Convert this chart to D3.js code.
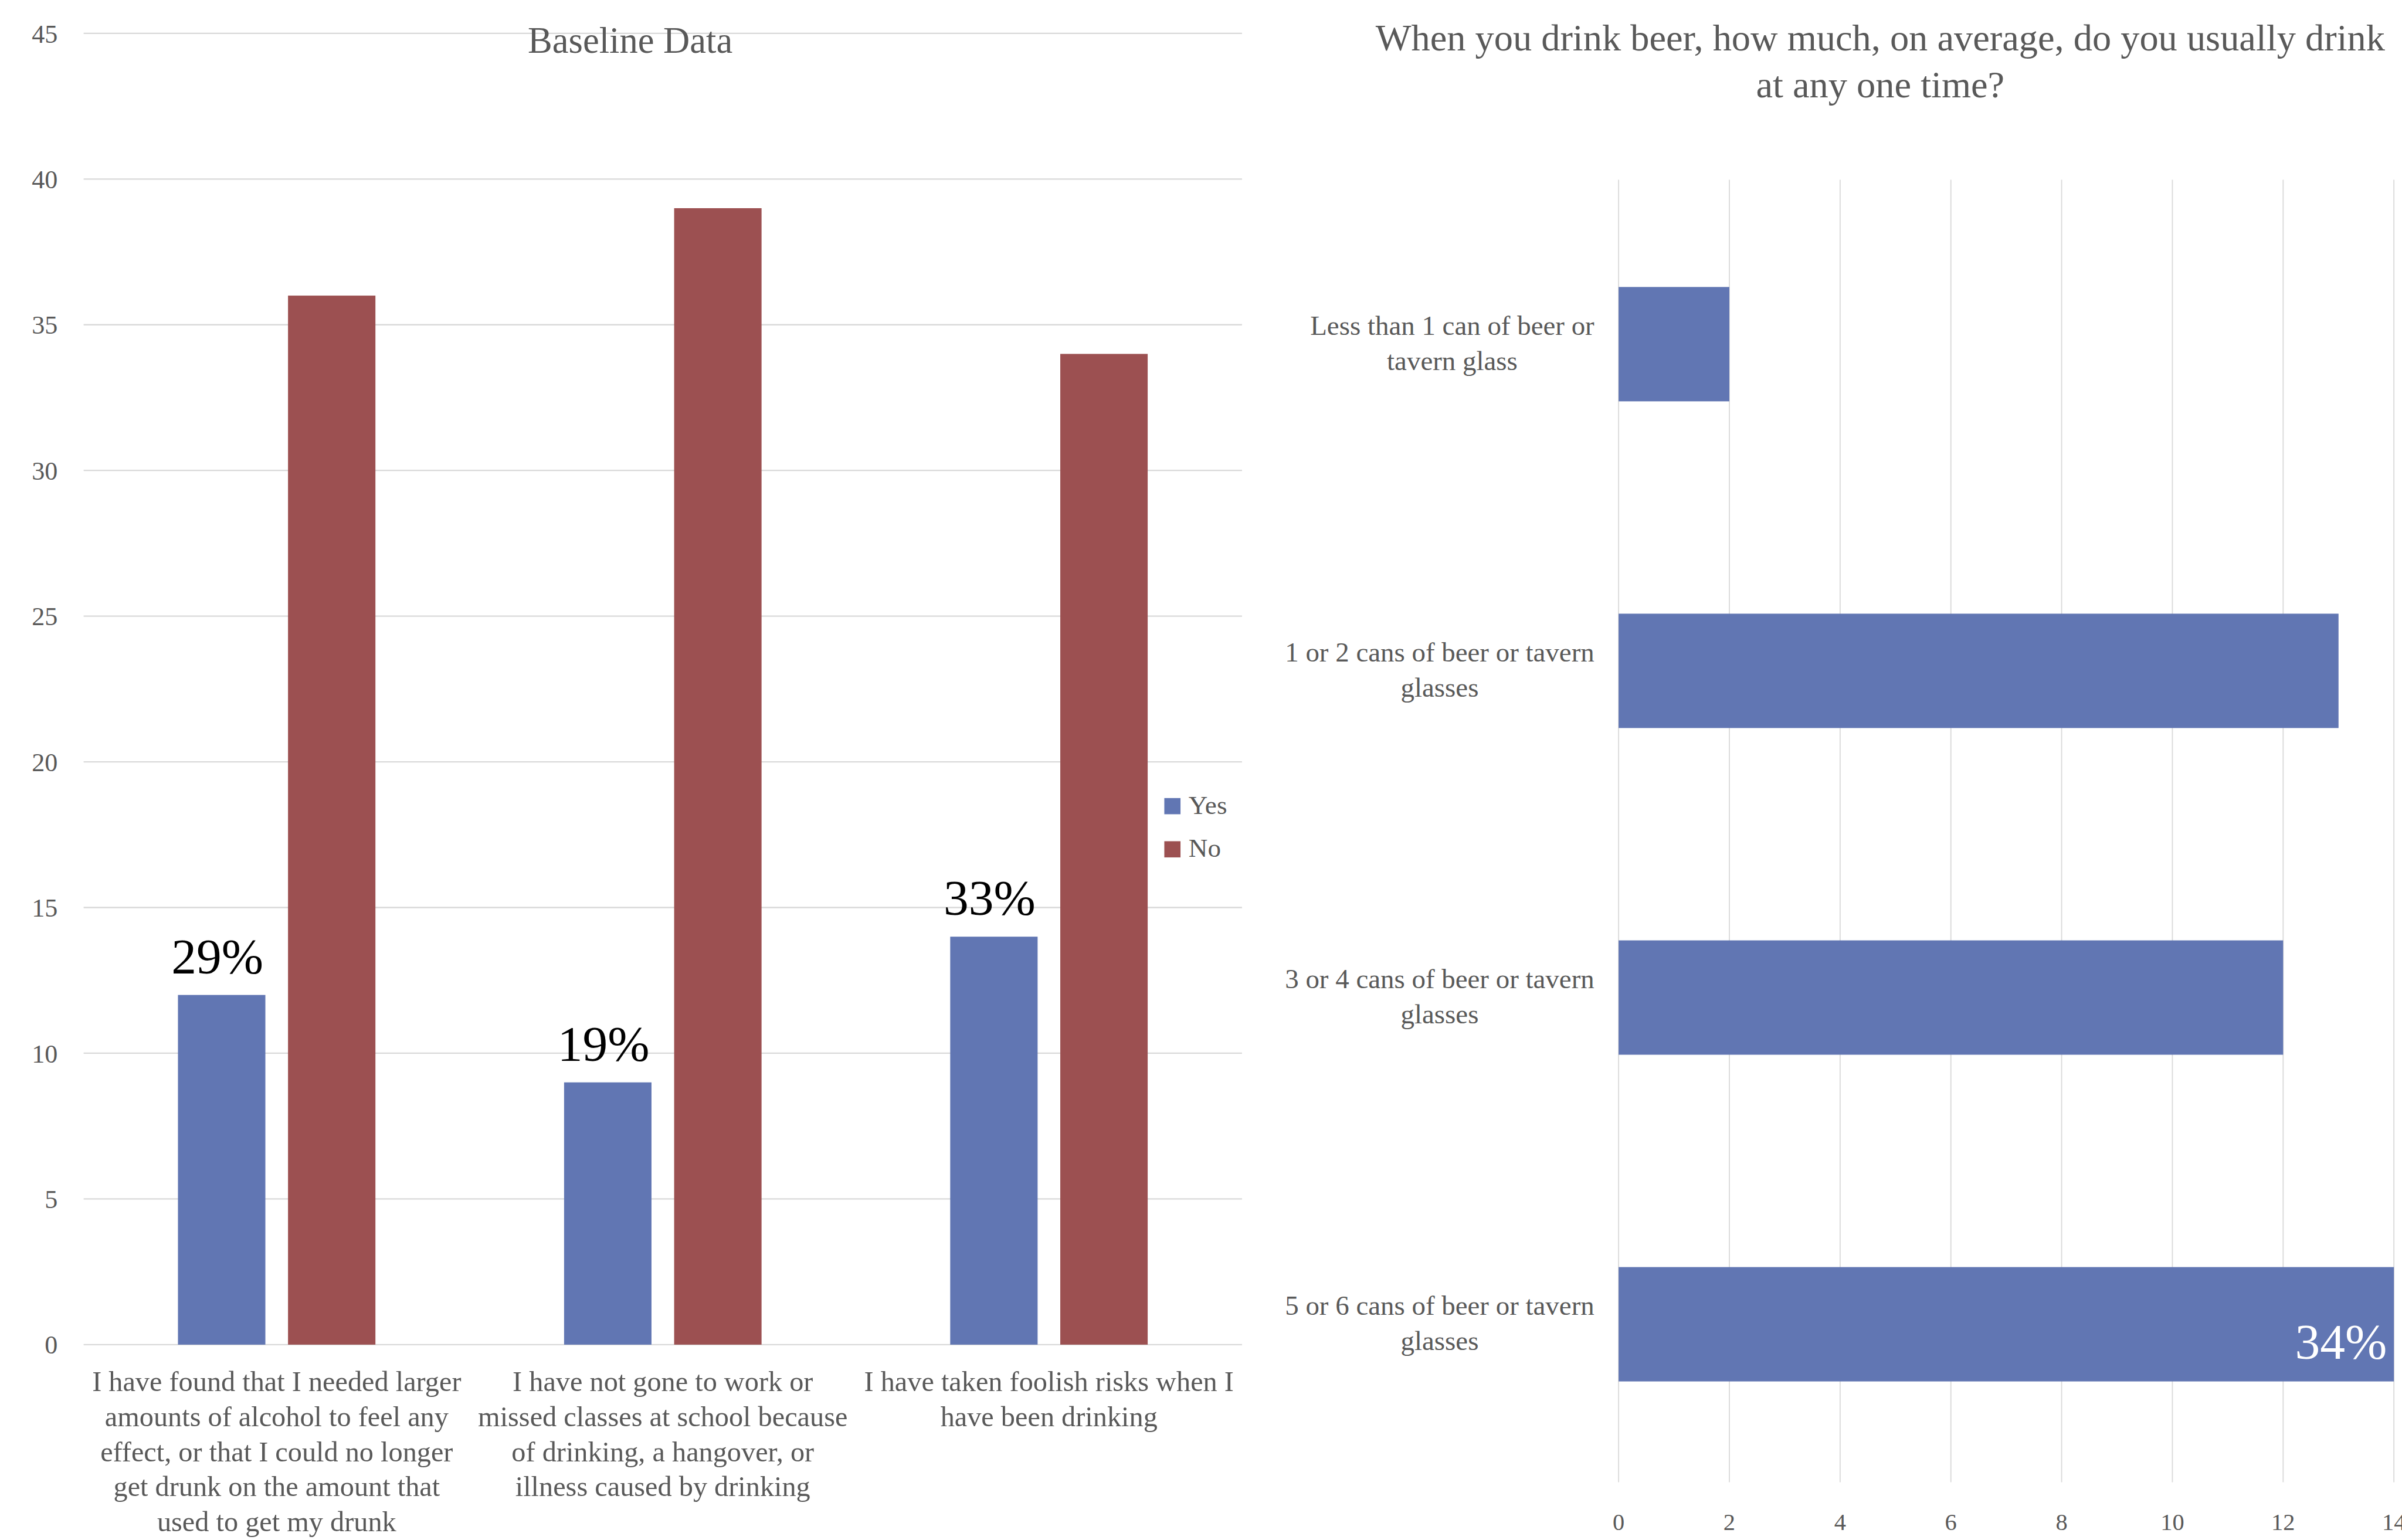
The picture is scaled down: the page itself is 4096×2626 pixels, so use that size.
<!DOCTYPE html>
<html>
<head>
<meta charset="utf-8">
<script src="https://cdn.jsdelivr.net/npm/d3@7"></script>
<style>
  html, body { margin: 0; padding: 0; background: #ffffff; }
  svg { display: block; }
  text { font-family: "Liberation Serif", "Times New Roman", serif; }
</style>
</head>
<body>
<svg id="chart" width="4096" height="2626" viewBox="0 0 4452 2854"></svg>
<script>
// ---------- Data: left chart ----------
const leftTitle = "Baseline Data";
const leftCategories = [
  "I have found that I needed larger\namounts of alcohol to feel any\neffect, or that I could no longer\nget drunk on the amount that\nused to get my drunk",
  "I have not gone to work or\nmissed classes at school because\nof drinking, a hangover, or\nillness caused by drinking",
  "I have taken foolish risks when I\nhave been drinking"
];
const seriesNames = ["Yes", "No"];
const yesValues = [12, 9, 14];
const noValues = [36, 39, 34];
const yesLabels = ["29%", "19%", "33%"];
const leftTicks = [0, 5, 10, 15, 20, 25, 30, 35, 40, 45];

// ---------- Data: right chart ----------
const rightTitle = ["When you drink beer, how much, on average, do you usually drink", "at any one time?"];
const rightCategories = [
  "Less than 1 can of beer or\ntavern glass",
  "1 or 2 cans of beer or tavern\nglasses",
  "3 or 4 cans of beer or tavern\nglasses",
  "5 or 6 cans of beer or tavern\nglasses"
];
const rightValues = [2, 13, 12, 14];
const rightLabels = [null, null, null, "34%"];
const rightTicks = [0, 2, 4, 6, 8, 10, 12, 14];

// ---------- Style ----------
const BLUE = "#6176b3";
const RED = "#9c5051";
const GRID = "#d9d9d9";
const TEXT = "#595959";

const svg = d3.select("#chart");

// ================= LEFT CHART =================
const L = { left: 155, right: 2302, top: 61.7, bottom: 2492 };
const yL = d3.scaleLinear().domain([0, 45]).range([L.bottom, L.top]);
const xL = d3.scaleBand().domain(leftCategories).range([L.left, L.right]).padding(0);
const groupW = 366;
const xInner = d3.scaleBand().domain(seriesNames)
  .range([(xL.bandwidth() - groupW) / 2, (xL.bandwidth() + groupW) / 2])
  .paddingInner(42 / 204).paddingOuter(0);

const gL = svg.append("g");

// gridlines
gL.append("g").selectAll("line").data(leftTicks).join("line")
  .attr("x1", L.left).attr("x2", L.right)
  .attr("y1", d => yL(d)).attr("y2", d => yL(d))
  .attr("stroke", GRID).attr("stroke-width", 2.5);

// y tick labels
gL.append("g").selectAll("text").data(leftTicks).join("text")
  .attr("x", 107).attr("y", d => yL(d) + 17)
  .attr("text-anchor", "end")
  .attr("font-size", 48).attr("fill", TEXT)
  .text(d => d);

// bars
const rows = leftCategories.map((c, i) => ({ cat: c, Yes: yesValues[i], No: noValues[i], label: yesLabels[i] }));
const colors = { Yes: BLUE, No: RED };
const groups = gL.append("g").selectAll("g").data(rows).join("g")
  .attr("transform", d => `translate(${xL(d.cat)},0)`);
groups.selectAll("rect").data(d => seriesNames.map(s => ({ s, v: d[s] }))).join("rect")
  .attr("x", d => xInner(d.s))
  .attr("width", xInner.bandwidth())
  .attr("y", d => yL(d.v))
  .attr("height", d => yL(0) - yL(d.v))
  .attr("fill", d => colors[d.s]);

// data labels on Yes bars
groups.append("text")
  .attr("x", xInner("Yes") + xInner.bandwidth() / 2 - 8)
  .attr("y", d => yL(d.Yes) - 40)
  .attr("text-anchor", "middle")
  .attr("font-size", 93).attr("fill", "#000000")
  .text(d => d.label);

// x category labels
const xLab = gL.append("g").selectAll("text").data(leftCategories).join("text")
  .attr("text-anchor", "middle")
  .attr("font-size", 52.5).attr("fill", TEXT);
xLab.each(function (d) {
  const t = d3.select(this);
  d.split("\n").forEach((line, i) => {
    t.append("tspan")
      .attr("x", xL(d) + xL.bandwidth() / 2)
      .attr("y", 2578 + i * 65)
      .text(line);
  });
});

// title
gL.append("text")
  .attr("x", 1168).attr("y", 98)
  .attr("text-anchor", "middle")
  .attr("font-size", 68).attr("fill", TEXT)
  .text(leftTitle);

// legend
const leg = gL.append("g").selectAll("g").data(seriesNames).join("g")
  .attr("transform", (d, i) => `translate(2158, ${1479 + i * 80})`);
leg.append("rect").attr("width", 30).attr("height", 30).attr("fill", d => colors[d]);
leg.append("text").attr("x", 45).attr("y", 29)
  .attr("font-size", 49).attr("fill", TEXT).text(d => d);

// ================= RIGHT CHART =================
const R = { left: 3000, right: 4437, top: 333, bottom: 2747 };
const xR = d3.scaleLinear().domain([0, 14]).range([R.left, R.right]);
const yR = d3.scaleBand().domain(rightCategories).range([335, 2757])
  .paddingInner(0.65).paddingOuter(0.325);

const gR = svg.append("g");

// vertical gridlines
gR.append("g").selectAll("line").data(rightTicks).join("line")
  .attr("x1", d => xR(d)).attr("x2", d => xR(d))
  .attr("y1", R.top).attr("y2", R.bottom)
  .attr("stroke", GRID).attr("stroke-width", 2);

// x tick labels
gR.append("g").selectAll("text").data(rightTicks).join("text")
  .attr("x", d => xR(d)).attr("y", 2836)
  .attr("text-anchor", "middle")
  .attr("font-size", 44).attr("fill", TEXT)
  .text(d => d);

// bars
gR.append("g").selectAll("rect").data(rightCategories).join("rect")
  .attr("x", xR(0))
  .attr("y", d => yR(d))
  .attr("height", yR.bandwidth())
  .attr("width", (d, i) => xR(rightValues[i]) - xR(0))
  .attr("fill", BLUE);

// data label(s)
gR.append("g").selectAll("text").data(rightCategories.filter((d, i) => rightLabels[i])).join("text")
  .attr("x", d => xR(rightValues[rightCategories.indexOf(d)]) - 13)
  .attr("y", d => yR(d) + yR.bandwidth() / 2 + 64)
  .attr("text-anchor", "end")
  .attr("font-size", 93).attr("fill", "#ffffff")
  .text(d => rightLabels[rightCategories.indexOf(d)]);

// category labels
const yLab = gR.append("g").selectAll("text").data(rightCategories).join("text")
  .attr("text-anchor", "middle")
  .attr("font-size", 51).attr("fill", TEXT);
yLab.each(function (d) {
  const t = d3.select(this);
  const lines = d.split("\n");
  const c = yR(d) + yR.bandwidth() / 2;
  const ts = lines.map((line, i) => t.append("tspan")
    .attr("y", c - 17 + i * 65 - (lines.length - 2) * 32.5)
    .text(line));
  const w = d3.max(ts, s => s.node().getComputedTextLength());
  ts.forEach(s => s.attr("x", 2955 - w / 2));
});

// title
gR.append("g").selectAll("text").data(rightTitle).join("text")
  .attr("x", 3485).attr("y", (d, i) => 93 + i * 87)
  .attr("text-anchor", "middle")
  .attr("font-size", 70).attr("fill", TEXT)
  .text(d => d);
</script>
</body>
</html>
